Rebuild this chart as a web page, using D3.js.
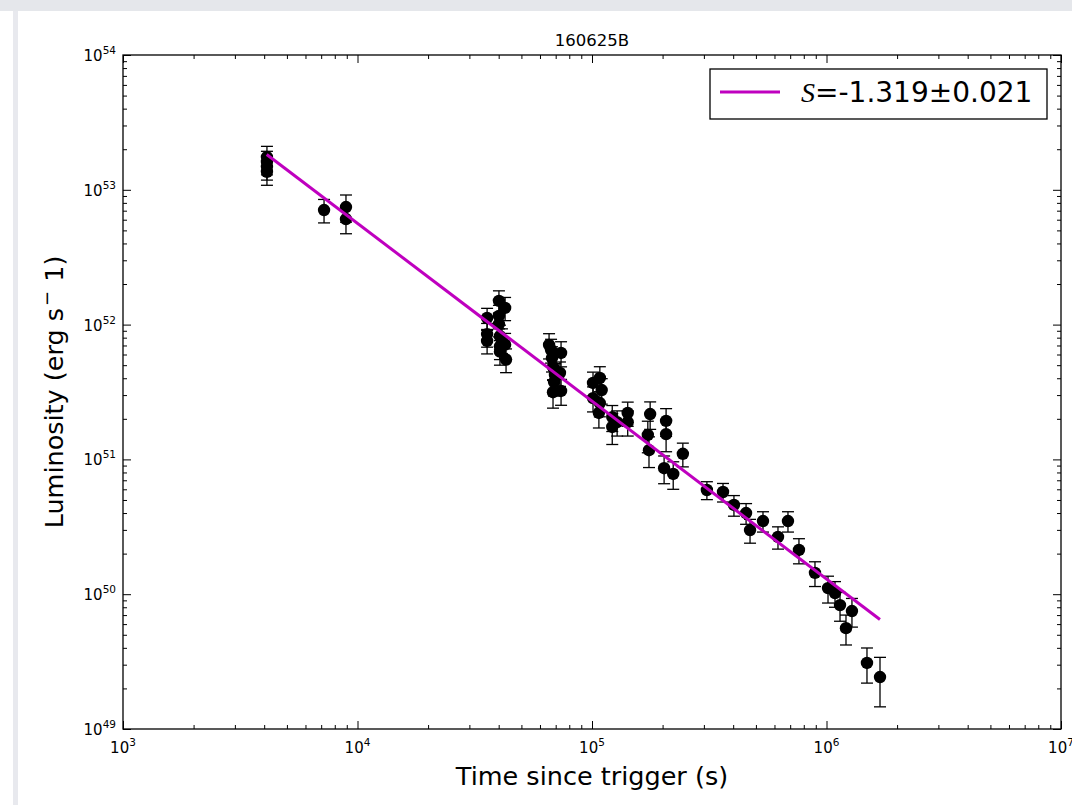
<!DOCTYPE html>
<html>
<head>
<meta charset="utf-8">
<script src="https://cdn.jsdelivr.net/npm/d3@7"></script>
<style>
  html, body { margin: 0; padding: 0; background: #fff; }
  svg { display: block; }
  text { font-family: "DejaVu Sans", sans-serif; fill: #000; }
</style>
</head>
<body>
<script>
// ---- data ----
const title = "160625B";
const xLabel = "Time since trigger (s)";
const times = [4110, 4110, 4110, 4110, 7200, 8930, 8930,
  3.57e4, 3.57e4, 3.57e4, 4.01e4, 4.01e4, 4.01e4, 4.05e4, 4.05e4, 4.05e4, 4.13e4, 4.26e4, 4.26e4, 4.30e4,
  6.56e4, 6.69e4, 6.75e4, 6.82e4, 6.95e4, 6.89e4, 6.82e4, 7.38e4, 7.30e4, 7.38e4,
  1.01e5, 1.08e5, 1.10e5, 1.01e5, 1.08e5, 1.07e5, 1.22e5, 1.22e5, 1.28e5, 1.42e5, 1.42e5,
  1.77e5, 1.73e5, 1.75e5, 2.07e5, 2.07e5, 2.03e5, 2.22e5, 2.44e5,
  3.09e5, 3.62e5, 4.03e5, 4.54e5, 4.72e5, 5.36e5, 6.21e5, 6.85e5, 7.63e5, 8.93e5,
  1.015e6, 1.087e6, 1.142e6, 1.284e6, 1.211e6, 1.488e6, 1.691e6];
const lum = [1.75e53, 1.61e53, 1.48e53, 1.36e53, 7.08e52, 7.45e52, 6.07e52,
  1.12e52, 8.5e51, 7.56e51, 1.50e52, 1.16e52, 1.01e52, 8.2e51, 6.9e51, 6.3e51, 7.7e51, 1.33e52, 7.1e51, 5.5e51,
  7.06e51, 6.48e51, 5.65e51, 4.85e51, 4.23e51, 3.75e51, 3.15e51, 6.16e51, 4.38e51, 3.22e51,
  3.69e51, 4.02e51, 3.27e51, 2.85e51, 2.62e51, 2.21e51, 2.06e51, 1.74e51, 1.89e51, 2.21e51, 1.89e51,
  2.17e51, 1.52e51, 1.17e51, 1.93e51, 1.54e51, 8.6e50, 7.8e50, 1.10e51,
  5.93e50, 5.73e50, 4.59e50, 4.00e50, 2.99e50, 3.49e50, 2.66e50, 3.49e50, 2.13e50, 1.44e50,
  1.11e50, 1.02e50, 8.3e49, 7.5e49, 5.6e49, 3.09e49, 2.43e49];
const lumErr = [0.35e53, 0.32e53, 0.30e53, 0.28e53, 1.4e52, 1.7e52, 1.35e52,
  2.0e51, 1.7e51, 1.5e51, 2.8e51, 2.3e51, 2.0e51, 1.7e51, 1.4e51, 1.3e51, 1.6e51, 2.6e51, 1.5e51, 1.1e51,
  1.5e51, 1.3e51, 1.2e51, 1.0e51, 0.9e51, 0.8e51, 0.75e51, 1.3e51, 0.9e51, 0.7e51,
  0.75e51, 0.85e51, 0.7e51, 0.6e51, 0.55e51, 0.5e51, 0.45e51, 0.45e51, 0.4e51, 0.45e51, 0.4e51,
  0.5e51, 0.4e51, 0.3e51, 0.45e51, 0.4e51, 2.0e50, 1.8e50, 0.22e51,
  0.9e50, 0.9e50, 0.8e50, 0.7e50, 0.6e50, 0.6e50, 0.5e50, 0.6e50, 0.45e50, 0.3e50,
  0.25e50, 0.22e50, 2.0e49, 1.8e49, 1.4e49, 0.9e49, 0.97e49];
const fitSlope = -1.319;
const fitSlopeErr = 0.021;
const fitLogNorm = 58.027;          // log10 of normalisation
const fitRange = [4100, 1.69e6];
const xMajorTicks = [1e3, 1e4, 1e5, 1e6, 1e7];
const xTickExps = ["3", "4", "5", "6", "7"];
const yMajorTicks = [1e49, 1e50, 1e51, 1e52, 1e53, 1e54];
const yTickExps = ["49", "50", "51", "52", "53", "54"];

// ---- layout ----
const W = 1072, H = 805;
const L = 123, R = 1061, T = 55, B = 729;
const svg = d3.select("body").append("svg").attr("width", W).attr("height", H);

// page decoration (grey frame bands)
svg.append("rect").attr("x", 0).attr("y", 0).attr("width", W).attr("height", 11).attr("fill", "#e5e7eb");
svg.append("rect").attr("x", 13).attr("y", 11).attr("width", 5).attr("height", H - 11).attr("fill", "#e8e9ee");

const x = d3.scaleLog().domain([1e3, 1e7]).range([L, R]);
const y = d3.scaleLog().domain([1e49, 1e54]).range([B, T]);

function minors(scale) {
  const [a, b] = scale.domain();
  const out = [];
  for (let e = Math.log10(a); e < Math.log10(b); e++)
    for (let k = 2; k <= 9; k++) out.push(k * Math.pow(10, e));
  return out;
}

function styleAxis(g) {
  g.select(".domain").remove();
  g.selectAll("line").attr("stroke", "#000").attr("stroke-width", 1);
  g.selectAll("text").remove();
}

// axes: ticks inward on all four sides
const axes = [
  [d3.axisBottom, x, `translate(0,${B})`],
  [d3.axisTop, x, `translate(0,${T})`],
  [d3.axisLeft, y, `translate(${L},0)`],
  [d3.axisRight, y, `translate(${R},0)`]
];
axes.forEach(([fn, sc, tr]) => {
  const maj = sc === x ? xMajorTicks : yMajorTicks;
  svg.append("g").attr("transform", tr)
    .call(fn(sc).tickValues(maj).tickSize(-8).tickFormat(""))
    .call(styleAxis);
  svg.append("g").attr("transform", tr)
    .call(fn(sc).tickValues(minors(sc)).tickSize(-4).tickFormat(""))
    .call(styleAxis);
});

// frame
svg.append("rect").attr("x", L).attr("y", T).attr("width", R - L).attr("height", B - T)
  .attr("fill", "none").attr("stroke", "#000").attr("stroke-width", 1.3);

// tick labels
xMajorTicks.forEach((v, i) => {
  const t = svg.append("text").attr("x", x(v)).attr("y", 753).attr("text-anchor", "middle")
    .style("font-size", "15px");
  t.append("tspan").text("10");
  t.append("tspan").attr("dy", -7).style("font-size", "10.5px").text(xTickExps[i]);
});
yMajorTicks.forEach((v, i) => {
  const t = svg.append("text").attr("x", 116).attr("y", y(v) + 6).attr("text-anchor", "end")
    .style("font-size", "15px");
  t.append("tspan").text("10");
  t.append("tspan").attr("dy", -7).style("font-size", "10.5px").text(yTickExps[i]);
});

// axis titles
svg.append("text").attr("x", (L + R) / 2).attr("y", 785).attr("text-anchor", "middle")
  .style("font-size", "25.5px").text(xLabel);
const yl = svg.append("text").attr("transform", `translate(63,${(T + B) / 2}) rotate(-90)`)
  .attr("text-anchor", "middle").style("font-size", "25.5px");
yl.append("tspan").text("Luminosity (erg s");
yl.append("tspan").attr("dy", -10).attr("dx", 2).style("font-size", "18px").text("\u2212");
yl.append("tspan").attr("dy", 10).attr("dx", 9).text("1)");

svg.append("text").attr("x", (L + R) / 2).attr("y", 46).attr("text-anchor", "middle")
  .style("font-size", "16.5px").text(title);

// data: error bars + markers
const pts = times.map((t, i) => ({ t, l: lum[i], e: lumErr[i] }));
const eg = svg.append("g").attr("stroke", "#000").attr("stroke-width", 1.3);
pts.forEach(d => {
  const x0 = x(d.t), y1 = y(d.l + d.e), y2 = y(Math.max(d.l - d.e, 1e49));
  eg.append("line").attr("x1", x0).attr("x2", x0).attr("y1", y1).attr("y2", y2);
  eg.append("line").attr("x1", x0 - 6).attr("x2", x0 + 6).attr("y1", y1).attr("y2", y1);
  eg.append("line").attr("x1", x0 - 6).attr("x2", x0 + 6).attr("y1", y2).attr("y2", y2);
});
svg.append("g").selectAll("circle").data(pts).join("circle")
  .attr("cx", d => x(d.t)).attr("cy", d => y(d.l)).attr("r", 6.2).attr("fill", "#000");

// fit line
const fitLine = fitRange.map(t => [t, Math.pow(10, fitLogNorm + fitSlope * Math.log10(t))]);
svg.append("path").datum(fitLine)
  .attr("d", d3.line().x(d => x(d[0])).y(d => y(d[1])))
  .attr("stroke", "#bf00bf").attr("stroke-width", 3).attr("fill", "none");

// legend
svg.append("rect").attr("x", 710).attr("y", 69).attr("width", 337).attr("height", 50)
  .attr("fill", "#fff").attr("stroke", "#000").attr("stroke-width", 1.3);
svg.append("line").attr("x1", 720).attr("x2", 780).attr("y1", 92).attr("y2", 92)
  .attr("stroke", "#bf00bf").attr("stroke-width", 3);
const lt = svg.append("text").attr("x", 801).attr("y", 102).style("font-size", "28px");
lt.append("tspan").style("font-family", "'Liberation Serif', serif").style("font-style", "italic").text("S");
lt.append("tspan").text(`=${fitSlope.toFixed(3)}\u00b1${fitSlopeErr.toFixed(3)}`);
</script>
</body>
</html>
